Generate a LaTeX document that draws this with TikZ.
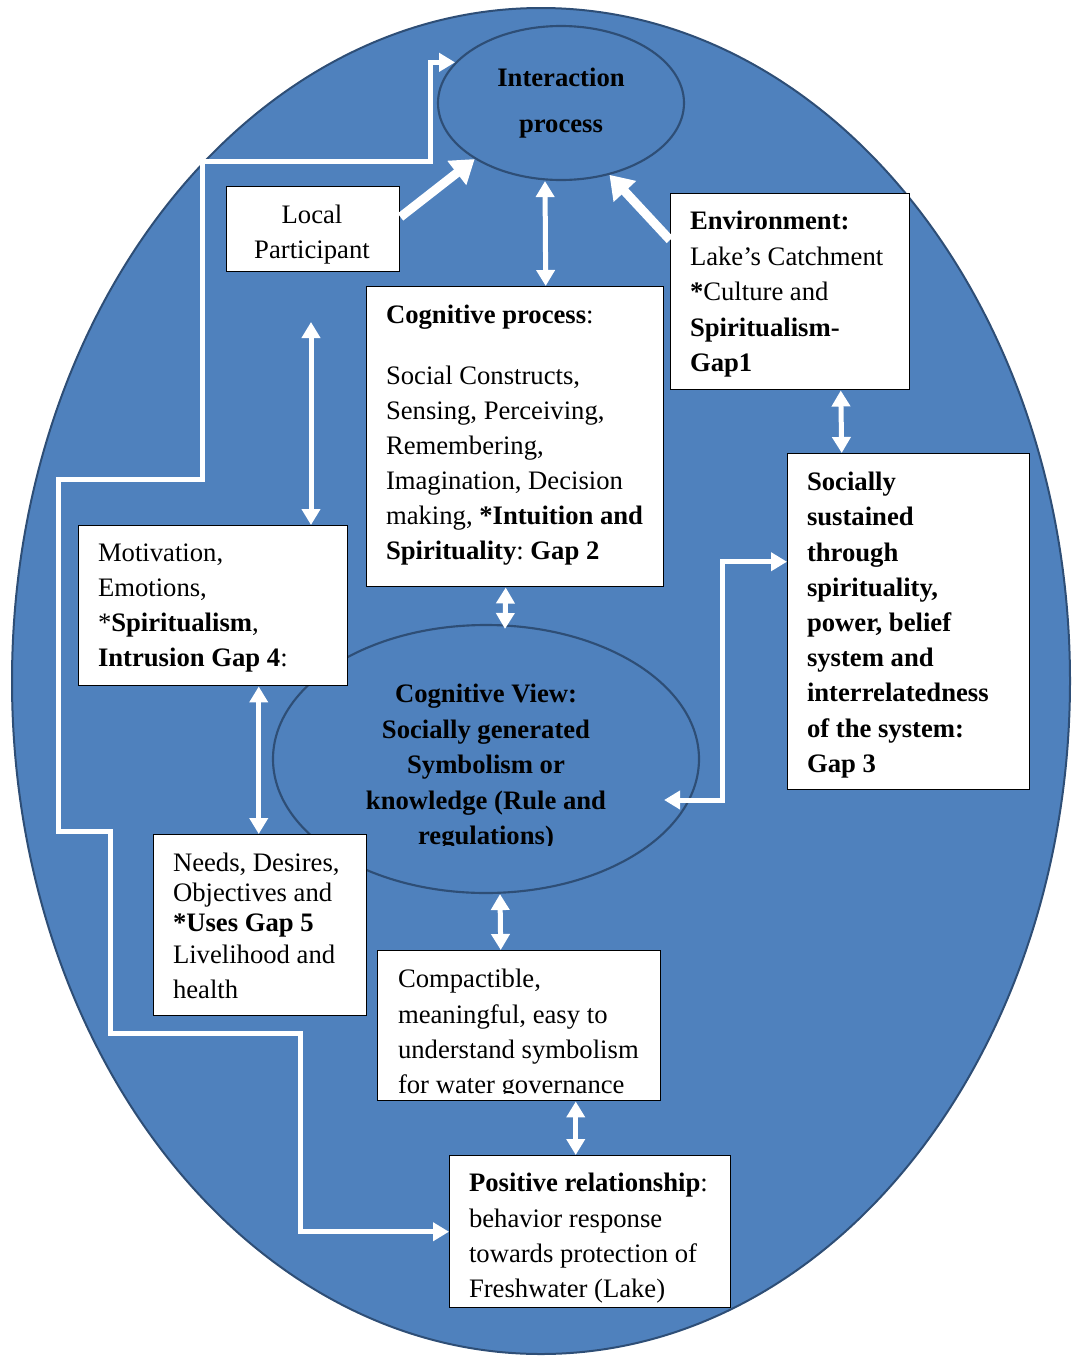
\documentclass[tikz,border=0pt]{standalone}
\usepackage{fontspec}
\setmainfont{Liberation Serif}
\frenchspacing
\usetikzlibrary{arrows.meta,shapes.geometric,calc}
\definecolor{lakefill}{HTML}{4F81BD}
\definecolor{lakeline}{HTML}{2E4E76}
\tikzset{
  sz/.style 2 args={minimum width=#1*0.75pt, minimum height=#2*0.75pt},
  lake/.style={fill=lakefill, draw=lakeline, line width=1.5pt},
  oval/.style={ellipse, draw=lakeline, line width=1.6pt, inner sep=0pt},
  box/.style={draw=black, line width=1.1pt, fill=white, inner sep=0pt, anchor=north west},
  txt/.style={inner sep=0pt, outer sep=0pt, anchor=north west, align=left, yshift=-2.4pt,
    font=\fontsize{20}{#1}\selectfont, execute at begin node={\rule{0pt}{15pt}}},
  btxt/.style={txt=#1, font=\fontsize{20}{#1}\selectfont\bfseries},
  ctxt/.style={txt=#1, anchor=north, align=center},
  bctxt/.style={btxt=#1, anchor=north, align=center},
  link/.style={draw=white, line width=3.75pt,
    {Triangle[width=13.5pt,length=12pt]}-{Triangle[width=13.5pt,length=12pt]}},
  push/.style={draw=white, line width=6.75pt, -{Triangle[width=22pt,length=17pt]}},
}
\begin{document}
\begin{tikzpicture}[x=0.75pt, y=-0.75pt]
\useasboundingbox (0,0) rectangle (1072,1357);

% the lake
\path[lake] (541,681) ellipse [x radius=529, y radius=673];

% ovals
\node[oval, sz={246}{154}] (ia) at (561,103) {};
\node[oval, sz={426}{268}] (cv) at (486,759) {};

% boxes
\node[box, sz={173}{85}]  (lp)   at (226,186)  {};
\node[box, sz={297}{300}] (cp)   at (366,286)  {};
\node[box, sz={239}{196}] (env)  at (670,193)  {};
\node[box, sz={242}{336}] (soc)  at (787,453)  {};
\node[box, sz={269}{160}] (mot)  at (78,525)   {};
\node[box, sz={213}{181}] (nd)   at (153,834)  {};
\node[box, sz={283}{150}] (comp) at (377,950)  {};
\node[box, sz={281}{152}] (pos)  at (449,1155) {};

% texts
\node[bctxt=34.5] (iat) at (561,65) {Interaction\\process};
\node[ctxt=26.25] (lpt) at (312,202) {Local\\Participant};
\node[txt=26.25] (cpt) at (386,302) {\textbf{Cognitive process}:\\[19.5pt]Social Constructs,\\Sensing, Perceiving,\\Remembering,\\Imagination, Decision\\making, \textbf{*Intuition and}\\\textbf{Spirituality}: \textbf{Gap 2}};
\node[txt=26.6] (envt) at (690,208) {\textbf{Environment:}\\Lake’s Catchment\\\textbf{*}Culture and\\\textbf{Spiritualism-}\\\textbf{Gap1}};
\node[btxt=26.4] (soct) at (807,469) {Socially\\sustained\\through\\spirituality,\\power, belief\\system and\\interrelatedness\\of the system:\\Gap 3};
\node[txt=26.25] (mott) at (98,541) {Motivation,\\Emotions,\\*\textbf{Spiritualism},\\\textbf{Intrusion Gap 4}:};
\begin{scope}
  \clip (270,600) rectangle (700,845);
  \node[bctxt=26.6] (cvt) at (486,681) {Cognitive View:\\Socially generated\\Symbolism or\\knowledge (Rule and\\regulations)};
\end{scope}
\node[txt=22.5] (ndt) at (173,850) {Needs, Desires,\\Objectives and\\\textbf{*Uses Gap 5}\\[1.5pt]Livelihood and\\[3.75pt]health};
\begin{scope}
  \clip (377,950) rectangle (660,1093);
  \node[txt=26.5] (compt) at (398,966) {Compactible,\\meaningful, easy to\\understand symbolism\\for water governance};
\end{scope}
\node[txt=26.5] (post) at (469,1170) {\textbf{Positive relationship}:\\behavior response\\towards protection of\\Freshwater (Lake)};

% connectors
\coordinate (upend) at (311,322);
\draw[push] ($(lp.north east)+(0,31)$) -- (ia.213);
\draw[push] ($(env.north west)+(0,47)$) -- (ia.304);
\draw[link] ($(ia.south)+(-16,0)$) -- ($(cp.north)+(30.5,0)$);
\draw[link] (upend) -- (upend |- mot.north);
\draw[link] ($(env.south)+(50.5,0)$) -- ($(soc.north)+(-67,0)$);
\draw[link] ($(cp.south)+(-9.5,0)$) -- ($(cv.north)+(19,5)$);
\draw[link] ($(mot.south)+(45.5,0)$) -- ($(nd.north)+(-1.5,0)$);
\draw[link] ($(cv.south)+(14,0)$) -- ($(comp.north)+(-18.5,0)$);
\draw[link] ($(comp.south)+(56.5,0)$) -- ($(pos.north)+(-14.5,0)$);
\draw[link] ($(cv.east)+(-36,41)$) -| ($(soc.west)+(-65,-60)$) -- ($(soc.west)+(0,-60)$);
\draw[link] (pos.west) -| ++(-149,-198) -| ++(-190,-202) -| ++(-52,-352)
  -| ++(144,-318) -- ++(228,0) |- (ia.159);
\end{tikzpicture}
\end{document}
